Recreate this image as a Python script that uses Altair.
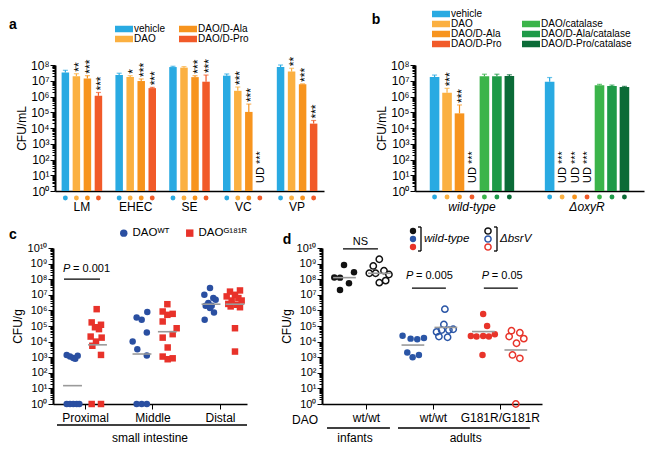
import altair as alt
import pandas as pd

FONT = "Liberation Sans"
W, H = 638, 440

# ======================= panel a =======================
a_strains = ["LM", "EHEC", "SE", "VC", "VP"]
a_conds = ["vehicle", "DAO", "DAO/D-Ala", "DAO/D-Pro"]
a_colors = ["#29aae2", "#fbb041", "#f7941e", "#f15a29"]
a_legend_order = ["vehicle", "DAO", "DAO/D-Ala", "DAO/D-Pro"]
a_vehicle = [3.4e7, 2.3e7, 7.4e7, 2.1e7, 7.4e7]
a_dao = [1.9e7, 1.7e7, 6.8e7, 2.3e6, 3.8e7]
a_dala = [1.4e7, 9.6e6, 1.7e7, 1.05e5, 5.9e6]
a_dpro = [1.1e6, 3.4e6, 8.7e6, None, 1.9e4]
a_vehicle_up = [4.6e7, 3.0e7, 8.3e7, 2.7e7, 1.0e8]
a_dao_up = [2.8e7, 2.1e7, 7.9e7, 4.0e6, 6.2e7]
a_dala_up = [2.1e7, 1.3e7, 2.1e7, 3.3e5, 6.3e6]
a_dpro_up = [1.8e6, 3.8e6, 2.3e7, None, 3.0e4]
a_vehicle_sig = ["", "", "", "", ""]
a_dao_sig = ["**", "*", "", "***", "**"]
a_dala_sig = ["***", "***", "***", "***", "***"]
a_dpro_sig = ["***", "***", "***", "UD ***", "***"]

# ======================= panel b =======================
b_strains = ["wild-type", "ΔoxyR"]
b_conds = ["vehicle", "DAO", "DAO/D-Ala", "DAO/D-Pro",
           "DAO/catalase", "DAO/D-Ala/catalase", "DAO/D-Pro/catalase"]
b_colors = ["#29aae2", "#fbb041", "#f7941e", "#f15a29", "#3bb44a", "#1e9a48", "#0b6b37"]
b_legend_order = ["vehicle", "DAO", "DAO/D-Ala", "DAO/D-Pro", " ",
                  "DAO/catalase", "DAO/D-Ala/catalase", "DAO/D-Pro/catalase"]
b_values = [[1.7e7, 8.7e6], [1.7e6, None], [8.5e4, None], [None, None],
            [1.9e7, 5.2e6], [1.9e7, 4.6e6], [2.0e7, 4.0e6]]
b_upper = [[2.3e7, 1.6e7], [3.3e6, None], [2.9e5, None], [None, None],
           [2.6e7, 5.9e6], [2.6e7, 5.3e6], [2.4e7, 4.4e6]]
b_sig = [["", ""], ["***", "UD ***"], ["***", "UD ***"], ["UD ***", "UD ***"],
         ["", ""], ["", ""], ["", ""]]

# ======================= panel c =======================
c_geno = ["DAOᵂᵀ", "DAOᴳ¹⁸¹ᴿ"]
c_wt_prox_x = [0.729, 0.778, 0.827, 0.856, 0.892, 0.729, 0.778, 0.827, 0.877, 0.916]
c_wt_prox_v = [1.4e3, 1.1e3, 8.9e2, 7.9e2, 1.26e3, 0, 0, 0, 0, 0]
c_mu_prox_x = [1.173, 1.099, 1.237, 1.148, 1.207, 1.084, 1.247, 1.163, 1.109, 1.237, 1.099, 1.237]
c_mu_prox_v = [1.2e6, 1.7e5, 1.2e5, 8.3e4, 6.3e4, 2.1e4, 1.8e4, 1.0e4, 5.4e3, 1.4e3, 0, 0]
c_wt_mid_x = [1.706, 1.775, 1.765, 1.84, 1.923, 1.916, 1.916, 1.765, 1.84, 1.916]
c_wt_mid_v = [1.0e4, 3.2e3, 3.5e5, 2.5e5, 7.8e5, 3.8e4, 1.3e3, 0, 0, 0]
c_mu_mid_x = [2.22, 2.151, 2.22, 2.299, 2.151, 2.358, 2.299, 2.151, 2.225, 2.151, 2.225, 2.299]
c_mu_mid_v = [2.5e6, 8.5e5, 5.2e5, 6.0e5, 1.95e5, 7.2e4, 3.0e4, 1.8e4, 4.2e3, 1.1e3, 7.4e2, 8.5e2]
c_wt_dist_x = [2.852, 2.768, 2.901, 2.936, 2.827, 2.877, 2.788, 2.852, 2.911, 2.773]
c_wt_dist_v = [2.7e7, 1.0e7, 6.2e6, 4.8e6, 3.0e6, 2.0e6, 2.0e6, 1.4e6, 7.4e5, 2.5e5]
c_mu_dist_x = [3.148, 3.296, 3.222, 3.099, 3.272, 3.173, 3.321, 3.123, 3.247, 3.296, 3.158, 3.222, 3.222]
c_mu_dist_v = [1.6e7, 1.9e7, 1.0e7, 7.9e6, 6.2e6, 4.3e6, 4.3e6, 2.6e6, 2.3e6, 1.6e6, 1.8e6, 7.2e4, 2.3e3]
c_med_x = [0.815, 1.185, 1.844, 2.22, 2.867, 3.222]
c_med_v = [15, 6.2e3, 1.6e3, 4.3e4, 2.5e6, 2.5e6]

# ======================= panel d =======================
d_cohorts = ["infants", "adults wt/wt", "adults G181R/G181R"]
d_colors = ["#111111", "#2a55a6", "#e8342a"]
d_inf_wt_x = [0.672, 0.527, 0.612, 0.821, 0.746, 0.612]
d_inf_wt_v = [8.1e8, 1.3e8, 1.26e8, 2.75e8, 5.5e7, 2.0e7]
d_inf_ko_x = [1.199, 1.109, 1.05, 1.144, 1.269, 1.343, 1.294, 1.199]
d_inf_ko_v = [1.9e9, 7.1e8, 2.4e8, 2.4e8, 3.5e8, 2.0e8, 8.1e7, 6.0e7]
d_ad_wt_x = [1.547, 1.667, 1.766, 1.866, 1.617, 1.697, 1.791]
d_ad_wt_v = [2.4e4, 1.55e4, 1.4e4, 1.7e4, 2.0e3, 9.8e2, 1.4e3]
d_ad_ko_x = [2.179, 2.164, 2.055, 2.13, 2.239, 2.303, 2.09, 2.219]
d_ad_ko_v = [1.2e6, 1.26e5, 4.2e4, 5.5e4, 5.5e4, 6.2e4, 2.1e4, 1.9e4]
d_mu_wt_x = [2.751, 2.81, 2.567, 2.652, 2.751, 2.836, 2.925, 2.741]
d_mu_wt_v = [5.9e5, 1.0e5, 2.3e4, 2.1e4, 2.3e4, 2.1e4, 3.0e4, 1.4e3]
d_mu_ko_x = [3.174, 3.299, 3.139, 3.358, 3.249, 3.189, 3.299, 3.239]
d_mu_ko_v = [5.0e4, 3.7e4, 2.1e4, 1.55e4, 7.8e3, 1.4e3, 8.5e2, 0]
d_med_x = [0.679, 1.201, 1.701, 2.194, 2.754, 3.239]
d_med_v = [1.26e8, 2.4e8, 6.0e3, 8.1e4, 4.4e4, 2.9e3]

# ======================= helpers =======================
IS_POW = "abs(log(datum.value)/LN10 - round(log(datum.value)/LN10)) < 1e-6"
POW_LABEL = (IS_POW + " ? '10' + ['⁰','¹','²','³','⁴','⁵','⁶','⁷','⁸','⁹','¹⁰']"
             "[round(log(datum.value)/LN10)] : ''")


def y_axis(n, left, title, fs, tpad):
    vals = [m * 10 ** k for k in range(n) for m in range(1, 10)] + [10 ** n]
    return alt.Axis(orient="left", offset=-left, values=vals, labelExpr=POW_LABEL,
                    tickSize={"condition": {"test": IS_POW, "value": 5}, "value": 3},
                    tickWidth=1, tickColor="black", domainColor="black", domainWidth=2,
                    labelFontSize=fs, labelPadding=1, labelOverlap=False, labelFlush=False,
                    labelColor="black", title=title, titleFontSize=12, titleFontWeight="normal",
                    titlePadding=tpad, titleColor="black", grid=False)


def bar_rows(strains, conds, vals, ups, sigs):
    rows = []
    for ci, c in enumerate(conds):
        for si, s in enumerate(strains):
            v, u, g = vals[ci][si], ups[ci][si], sigs[ci][si]
            rows.append(dict(strain=s, cond=c, value=v, upper=u, sig=g,
                             ud=g.startswith("UD"), lab=(u if u else 1.0)))
    return pd.DataFrame(rows)


def bar_panel(df, strains, conds, colors, legend_order, xr, pads, opads, dot_y,
              legend, label_style):
    color_of = dict(zip(conds, colors))
    cs = alt.Scale(domain=legend_order, range=[color_of.get(c, "#ffffff") for c in legend_order])
    xs = alt.Scale(type="band", domain=strains, range=xr, paddingInner=pads[0], paddingOuter=pads[1])
    xos = alt.Scale(type="band", domain=conds, paddingInner=opads[0], paddingOuter=opads[1])
    ys = alt.Scale(type="log", domain=[1, 1e8], range=[183, 57])
    x_axis = alt.Axis(orient="bottom", offset=183 - H, ticks=False, domainColor="black",
                      domainWidth=1.5, labelFontSize=12, labelPadding=10, labelAngle=0,
                      labelFontStyle=label_style, labelColor="black", title=None, grid=False)
    base = alt.Chart(df)
    X = alt.X("strain:N", scale=xs, title=None, axis=None)
    XO = alt.XOffset("cond:N", scale=xos)
    C = alt.Color("cond:N", scale=cs, legend=None)
    bars = base.mark_bar().encode(
        x=alt.X("strain:N", scale=xs, title=None, axis=x_axis), xOffset=XO,
        y=alt.Y("value:Q", scale=ys, axis=y_axis(8, xr[0], "CFU/mL", 12, 2)),
        y2=alt.datum(1),
        color=alt.Color("cond:N", scale=cs, legend=legend))
    err = base.mark_rule(strokeWidth=1.2).encode(
        x=X, xOffset=XO, y=alt.Y("value:Q", scale=ys, axis=None), y2="upper:Q", color=C)
    cap = base.mark_tick(thickness=1.2, size=5).encode(
        x=X, xOffset=XO, y=alt.Y("upper:Q", scale=ys, axis=None), color=C)
    stars = base.transform_filter("datum.sig != '' && !datum.ud").mark_text(
        angle=270, align="left", baseline="middle", dx=2, dy=2.5, fontSize=12, color="black").encode(
        x=X, xOffset=XO, y=alt.Y("lab:Q", scale=ys, axis=None), text="sig:N")
    ud = base.transform_filter("datum.ud").mark_text(
        angle=270, align="left", baseline="middle", dx=8, dy=1, fontSize=11, color="black").encode(
        x=X, xOffset=XO, y=alt.Y("lab:Q", scale=ys, axis=None), text="sig:N")
    dots = base.mark_point(filled=True, size=24, opacity=1).encode(
        x=X, xOffset=XO, y=alt.value(dot_y), color=C)
    return [bars, err, cap, stars, ud, dots]


def legend_bars(x, y, colpad):
    return alt.Legend(orient="none", legendX=x, legendY=y, columns=2, title=None,
                      symbolType="M-1.8,-0.65H1.8V0.65H-1.8Z", symbolSize=100,
                      symbolStrokeWidth=0, labelFontSize=10, labelOffset=5,
                      rowPadding=0, columnPadding=colpad, labelColor="black")


a_vals = [a_vehicle, a_dao, a_dala, a_dpro]
a_ups = [a_vehicle_up, a_dao_up, a_dala_up, a_dpro_up]
a_sigs = [a_vehicle_sig, a_dao_sig, a_dala_sig, a_dpro_sig]
a_df = bar_rows(a_strains, a_conds, a_vals, a_ups, a_sigs)
layers_a = bar_panel(a_df, a_strains, a_conds, a_colors, a_legend_order, [47, 316],
                     (0.16, 0.08), (0.32, 0.21), 190, legend_bars(111, 16, 13), "normal")

b_df = bar_rows(b_strains, b_conds, b_values, b_upper, b_sig)
layers_b = bar_panel(b_df, b_strains, b_conds, b_colors, b_legend_order, [407, 636],
                     (0.05, 0.02), (0.23, 1.0), 189, legend_bars(428, 1, 20), "italic")

# ---------------- panel c chart ----------------
c_pts = []
for geno, xs_, vs_ in [(c_geno[0], c_wt_prox_x, c_wt_prox_v), (c_geno[1], c_mu_prox_x, c_mu_prox_v),
                       (c_geno[0], c_wt_mid_x, c_wt_mid_v), (c_geno[1], c_mu_mid_x, c_mu_mid_v),
                       (c_geno[0], c_wt_dist_x, c_wt_dist_v), (c_geno[1], c_mu_dist_x, c_mu_dist_v)]:
    for xv, vv in zip(xs_, vs_):
        c_pts.append(dict(geno=geno, x=xv, cfu=vv, plot=max(vv, 1)))
c_df = pd.DataFrame(c_pts)
c_med = pd.DataFrame({"x1": [v - 0.14 for v in c_med_x], "x2": [v + 0.14 for v in c_med_x], "v": c_med_v})

c_xs = alt.Scale(domain=[0.526, 3.4], range=[45, 239], nice=False, zero=False)
c_ys = alt.Scale(type="log", domain=[1, 1e10], range=[396, 240])
c_xaxis = alt.Axis(orient="bottom", offset=396 - H, values=[1, 2, 3],
                   labelExpr="['Proximal','Middle','Distal'][datum.value - 1]",
                   tickSize=5, tickColor="black", domainColor="black", domainWidth=1.5,
                   labelFontSize=12, labelPadding=3, labelColor="black", title=None, grid=False,
                   labelFlush=False, labelOverlap=False)
c_leg = alt.Legend(orient="none", legendX=110, legendY=219, direction="horizontal", title=None,
                   labelFontSize=11.5, symbolSize=55, columnPadding=14, labelOffset=3,
                   labelColor="black", symbolStrokeWidth=0)
c_points = alt.Chart(c_df).mark_point(filled=True, size=42, opacity=1).encode(
    x=alt.X("x:Q", scale=c_xs, axis=c_xaxis),
    y=alt.Y("plot:Q", scale=c_ys, axis=y_axis(10, 45, "CFU/g", 11, 3)),
    color=alt.Color("geno:N", scale=alt.Scale(domain=c_geno, range=["#2a4fa1", "#e8322a"]), legend=c_leg),
    shape=alt.Shape("geno:N", scale=alt.Scale(domain=c_geno, range=["circle", "square"]), legend=c_leg))
c_medians = alt.Chart(c_med).mark_rule(color="#9a9a9a", strokeWidth=1.6).encode(
    x=alt.X("x1:Q", scale=c_xs, axis=None), x2="x2:Q", y=alt.Y("v:Q", scale=c_ys, axis=None))
c_pline = alt.Chart(pd.DataFrame({"x1": [0.689], "x2": [1.222], "v": [1e8]})).mark_rule(
    color="black", strokeWidth=1.3).encode(
    x=alt.X("x1:Q", scale=c_xs, axis=None), x2="x2:Q", y=alt.Y("v:Q", scale=c_ys, axis=None))
c_ptxt = alt.Chart(pd.DataFrame({"x": [0.674], "v": [4.5e8], "t": ["P"], "u": ["= 0.001"]}))
c_p1 = c_ptxt.mark_text(align="left", baseline="middle", fontSize=11, fontStyle="italic").encode(
    x=alt.X("x:Q", scale=c_xs, axis=None), y=alt.Y("v:Q", scale=c_ys, axis=None), text="t:N")
c_p2 = c_ptxt.mark_text(align="left", baseline="middle", fontSize=11, dx=10).encode(
    x=alt.X("x:Q", scale=c_xs, axis=None), y=alt.Y("v:Q", scale=c_ys, axis=None), text="u:N")
c_under = alt.Chart(pd.DataFrame({"x1": [0.585], "x2": [3.4]})).mark_rule(
    color="black", strokeWidth=1.3).encode(
    x=alt.X("x1:Q", scale=c_xs, axis=None), x2="x2:Q", y=alt.value(417))
c_si = alt.Chart(pd.DataFrame({"t": ["small intestine"], "x": [1.963]})).mark_text(
    fontSize=12, baseline="middle").encode(
    x=alt.X("x:Q", scale=c_xs, axis=None), y=alt.value(430), text="t:N")
layers_c = [c_points, c_medians, c_pline, c_p1, c_p2, c_under, c_si]

# ---------------- panel d chart ----------------
d_pts = []
for coh, filled, xs_, vs_ in [(d_cohorts[0], True, d_inf_wt_x, d_inf_wt_v),
                              (d_cohorts[0], False, d_inf_ko_x, d_inf_ko_v),
                              (d_cohorts[1], True, d_ad_wt_x, d_ad_wt_v),
                              (d_cohorts[1], False, d_ad_ko_x, d_ad_ko_v),
                              (d_cohorts[2], True, d_mu_wt_x, d_mu_wt_v),
                              (d_cohorts[2], False, d_mu_ko_x, d_mu_ko_v)]:
    for xv, vv in zip(xs_, vs_):
        d_pts.append(dict(cohort=coh, strain="wild-type" if filled else "ΔbsrV",
                          x=xv, cfu=vv, plot=max(vv, 1)))
d_df = pd.DataFrame(d_pts)
d_med = pd.DataFrame({"x1": [v - 0.17 for v in d_med_x], "x2": [v + 0.17 for v in d_med_x], "v": d_med_v})

d_xs = alt.Scale(domain=[0.343, 3.63], range=[314, 534], nice=False, zero=False)
d_ys = alt.Scale(type="log", domain=[1, 1e10], range=[396, 240])
d_cs = alt.Scale(domain=d_cohorts, range=d_colors)
d_xaxis = alt.Axis(orient="bottom", offset=396 - H, values=[1, 2, 3],
                   labelExpr="['wt/wt','wt/wt','G181R/G181R'][datum.value - 1]",
                   tickSize=5, tickColor="black", domainColor="black", domainWidth=1.5,
                   labelFontSize=12, labelPadding=3, labelColor="black", title=None, grid=False,
                   labelFlush=False, labelOverlap=False)
d_filled = alt.Chart(d_df).transform_filter("datum.strain == 'wild-type'").mark_point(
    filled=True, size=42, opacity=1).encode(
    x=alt.X("x:Q", scale=d_xs, axis=d_xaxis),
    y=alt.Y("plot:Q", scale=d_ys, axis=y_axis(10, 314, "CFU/g", 11, 3)),
    color=alt.Color("cohort:N", scale=d_cs, legend=None))
d_open = alt.Chart(d_df).transform_filter("datum.strain != 'wild-type'").mark_point(
    filled=False, size=40, strokeWidth=1.5, opacity=1).encode(
    x=alt.X("x:Q", scale=d_xs, axis=None), y=alt.Y("plot:Q", scale=d_ys, axis=None),
    color=alt.Color("cohort:N", scale=d_cs, legend=None))
d_medians = alt.Chart(d_med).mark_rule(color="#9a9a9a", strokeWidth=1.6).encode(
    x=alt.X("x1:Q", scale=d_xs, axis=None), x2="x2:Q", y=alt.Y("v:Q", scale=d_ys, axis=None))
d_lines = alt.Chart(pd.DataFrame({"x1": [0.657, 1.687, 2.761], "x2": [1.179, 2.194, 3.269],
                                  "v": [8.7e9, 2.7e7, 2.7e7]})).mark_rule(
    color="black", strokeWidth=1.3).encode(
    x=alt.X("x1:Q", scale=d_xs, axis=None), x2="x2:Q", y=alt.Y("v:Q", scale=d_ys, axis=None))
d_ns = alt.Chart(pd.DataFrame({"x": [0.918], "v": [2.6e10], "t": ["NS"]})).mark_text(
    fontSize=11, baseline="middle").encode(
    x=alt.X("x:Q", scale=d_xs, axis=None), y=alt.Y("v:Q", scale=d_ys, axis=None), text="t:N")
d_ptxt = alt.Chart(pd.DataFrame({"x": [1.597, 2.731], "v": [1.5e8, 1.5e8], "t": ["P", "P"],
                                 "u": ["= 0.005", "= 0.05"]}))
d_p1 = d_ptxt.mark_text(align="left", baseline="middle", fontSize=11, fontStyle="italic").encode(
    x=alt.X("x:Q", scale=d_xs, axis=None), y=alt.Y("v:Q", scale=d_ys, axis=None), text="t:N")
d_p2 = d_ptxt.mark_text(align="left", baseline="middle", fontSize=11, dx=10).encode(
    x=alt.X("x:Q", scale=d_xs, axis=None), y=alt.Y("v:Q", scale=d_ys, axis=None), text="u:N")
d_under = alt.Chart(pd.DataFrame({"x1": [0.418, 1.478], "x2": [1.358, 3.448]})).mark_rule(
    color="black", strokeWidth=1.3).encode(
    x=alt.X("x1:Q", scale=d_xs, axis=None), x2="x2:Q", y=alt.value(420))
d_age = alt.Chart(pd.DataFrame({"t": ["infants", "adults"], "x": [0.836, 2.49]})).mark_text(
    fontSize=12, baseline="middle").encode(
    x=alt.X("x:Q", scale=d_xs, axis=None), y=alt.value(430), text="t:N")
d_dao = alt.Chart(pd.DataFrame({"t": ["DAO"]})).mark_text(
    fontSize=12, baseline="middle").encode(x=alt.value(297), y=alt.value(412), text="t:N")
layers_d = [d_filled, d_open, d_medians, d_lines, d_ns, d_p1, d_p2, d_under, d_age, d_dao]

# ---------------- panel d legend ----------------
leg_df = pd.DataFrame({"cohort": d_cohorts})
leg_y = alt.Y("cohort:N", scale=alt.Scale(type="point", domain=d_cohorts, range=[223, 239], padding=0), axis=None)
leg_f = alt.Chart(leg_df).mark_point(filled=True, size=40, opacity=1).encode(
    x=alt.value(405), y=leg_y, color=alt.Color("cohort:N", scale=d_cs, legend=None))
leg_o = alt.Chart(leg_df).mark_point(filled=False, size=38, strokeWidth=1.5, opacity=1).encode(
    x=alt.value(480), y=leg_y, color=alt.Color("cohort:N", scale=d_cs, legend=None))
one = pd.DataFrame({"k": [0]})
brackets = []
for bx in [413, 489]:
    brackets.append(alt.Chart(one).mark_rule(color="black", strokeWidth=1.3).encode(
        x=alt.value(bx), y=alt.value(219), y2=alt.value(243)))
    brackets.append(alt.Chart(one).mark_rule(color="black", strokeWidth=1.3).encode(
        x=alt.value(bx - 3), x2=alt.value(bx), y=alt.value(219)))
    brackets.append(alt.Chart(one).mark_rule(color="black", strokeWidth=1.3).encode(
        x=alt.value(bx - 3), x2=alt.value(bx), y=alt.value(243)))
leg_txt = alt.Chart(pd.DataFrame({"t": ["wild-type"]})).mark_text(
    fontSize=11.5, fontStyle="italic", align="left", baseline="middle").encode(
    x=alt.value(416), y=alt.value(231), text="t:N")
leg_txt2 = alt.Chart(pd.DataFrame({"t": ["ΔbsrV"]})).mark_text(
    fontSize=11.5, fontStyle="italic", align="left", baseline="middle").encode(
    x=alt.value(492), y=alt.value(231), text="t:N")
layers_legd = [leg_f, leg_o, *brackets, leg_txt, leg_txt2]

letters = []
for t, lx, ly in [("a", 5, 17), ("b", 368, 12), ("c", 5, 227), ("d", 279, 232)]:
    letters.append(alt.Chart(pd.DataFrame({"t": [t]})).mark_text(
        fontSize=14, fontWeight="bold", baseline="middle").encode(
        x=alt.value(lx), y=alt.value(ly), text="t:N"))

# all layers flat; every panel's layers use identical explicit scales, so they line up
chart = alt.layer(*layers_a, *layers_b, *layers_c, *layers_d, *layers_legd, *letters).resolve_scale(
    x="independent", y="independent", xOffset="independent", color="independent",
    shape="independent").resolve_legend(color="independent", shape="independent").properties(
    width=W, height=H, autosize=alt.AutoSizeParams(type="none"), padding=0
).configure(font=FONT).configure_view(stroke=None).configure_text(font=FONT, color="black")

chart.save("out.html", embed_options={"renderer": "svg", "actions": False})
